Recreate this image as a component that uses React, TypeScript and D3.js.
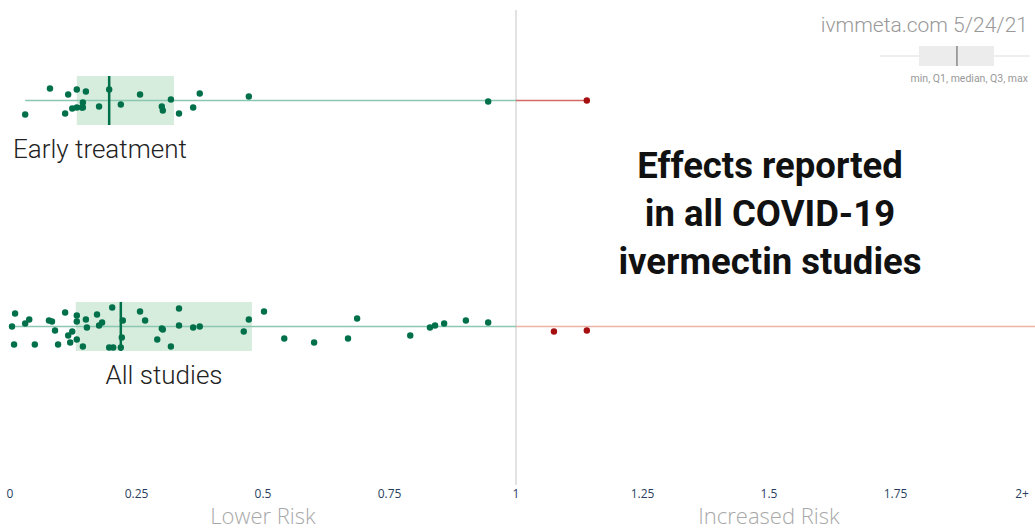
import { scaleLinear } from 'd3';

const W = 1035;
const H = 531;

// risk ratio scale, 0 .. 2+
const TICKS = [0, 0.25, 0.5, 0.75, 1, 1.25, 1.5, 1.75, 2];
const TICK_LABELS = ['0', '0.25', '0.5', '0.75', '1', '1.25', '1.5', '1.75', '2+'];

const ROWS = ['Early treatment', 'All studies'];

// per-study effects, with a vertical jitter in [-1, 1] band units
const EARLY_VALUES = [
  0.03, 0.079, 0.109, 0.115, 0.123, 0.132, 0.132, 0.142, 0.144, 0.144, 0.15, 0.176,
  0.196, 0.219, 0.257, 0.3, 0.302, 0.318, 0.334, 0.362, 0.375, 0.472, 0.945, 1.14,
];
const EARLY_JITTER = [
  0.56, -0.48, 0.52, -0.24, 0.32, -0.44, 0.28, 0.28, 0.08, 0.28, -0.36, 0.24,
  -0.44, 0.16, -0.24, 0.24, 0.4, -0.04, 0.52, 0.28, -0.28, -0.16, 0.04, 0,
];
const ALL_VALUES = [
  0.004, 0.008, 0.01, 0.03, 0.038, 0.049, 0.077, 0.083, 0.089, 0.095, 0.109, 0.115,
  0.119, 0.123, 0.132, 0.132, 0.132, 0.144, 0.15, 0.152, 0.172, 0.176, 0.182, 0.196,
  0.202, 0.204, 0.223, 0.221, 0.219, 0.257, 0.267, 0.291, 0.3, 0.302, 0.318, 0.334,
  0.334, 0.362, 0.375, 0.462, 0.472, 0.502, 0.542, 0.601, 0.668, 0.686, 0.791, 0.83,
  0.84, 0.858, 0.901, 0.945, 1.075, 1.14,
];
const ALL_JITTER = [
  0, 0.72, -0.52, -0.12, -0.28, 0.72, -0.24, -0.2, 0.16, 0.72, -0.56, 0.36,
  0.64, 0.2, -0.44, -0.2, 0.52, 0.8, -0.28, 0.04, -0.48, -0.04, -0.16, 0.84,
  -0.76, 0.84, -0.24, 0.44, 0.84, -0.6, -0.24, 0.52, 0.08, 0.12, 0.8, -0.72,
  -0.04, 0.04, 0, 0.2, -0.28, -0.6, 0.48, 0.64, 0.48, -0.32, 0.36, 0.04,
  -0.04, -0.12, -0.24, -0.16, 0.2, 0.16,
];

// min, Q1, median, Q3, max
const EARLY_STATS = [0.03, 0.132, 0.196, 0.324, 1.14];
const ALL_STATS = [0.004, 0.13, 0.219, 0.478, 2.1];

const TITLE = ['Effects reported', 'in all COVID-19', 'ivermectin studies'];

const GREEN = '#00704a';
const RED = '#a50f0f';

export default function App() {
  const x = scaleLinear().domain([0, 2]).range([10, 1022]);
  const rowY = scaleLinear().domain([0, 1]).range([100.5, 326.5]);
  const jit = scaleLinear().domain([-1, 1]).range([-25, 25]);
  const one = x(1);

  const rows = [
    { label: ROWS[0], values: EARLY_VALUES, jitter: EARLY_JITTER, stats: EARLY_STATS, redLine: '#d46a6a' },
    { label: ROWS[1], values: ALL_VALUES, jitter: ALL_JITTER, stats: ALL_STATS, redLine: '#eab3a6' },
  ];

  // small legend glyph, own scale
  const lg = scaleLinear().domain([0, 1]).range([880, 1030]);

  return (
    <div style={{ position: 'absolute', left: 0, top: 0 }}>
      <svg width={W} height={H} style={{ display: 'block', background: '#fff' }}>
        <line x1={one} x2={one} y1={10} y2={485} stroke="#cfcfcf" strokeWidth={1.2} />

        {rows.map((r, i) => {
          const cy = rowY(i);
          const [mn, q1, md, q3, mx] = r.stats;
          const xMax = Math.min(x(mx), W);
          return (
            <g key={r.label}>
              <rect x={x(q1)} y={cy - 24.5} width={x(q3) - x(q1)} height={49} fill="#d6ecdc" />
              <line x1={x(mn)} x2={one} y1={cy} y2={cy} stroke="#8cc7b2" strokeWidth={1.3} />
              <line x1={one} x2={xMax} y1={cy} y2={cy} stroke={r.redLine} strokeWidth={1.3} />
              <line x1={x(md)} x2={x(md)} y1={cy - 24.5} y2={cy + 24.5} stroke={GREEN} strokeWidth={2.5} />
              {r.values.map((v, j) => (
                <circle key={j} cx={x(v)} cy={cy + jit(r.jitter[j])} r={3.2} fill={v > 1 ? RED : GREEN} />
              ))}
            </g>
          );
        })}

        <text x={13} y={158} fontFamily="Roboto" fontWeight={300} fontSize={26} fill="#222">
          {ROWS[0]}
        </text>
        <text x={164} y={384} textAnchor="middle" fontFamily="Roboto" fontWeight={300} fontSize={26} fill="#222">
          {ROWS[1]}
        </text>

        {TITLE.map((t, i) => (
          <text
            key={t}
            x={770}
            y={178 + i * 48}
            textAnchor="middle"
            fontFamily="Roboto"
            fontWeight={700}
            fontSize={36.5}
            fill="#111"
          >
            {t}
          </text>
        ))}

        {TICKS.map((t, i) => (
          <text
            key={t}
            x={x(t)}
            y={498}
            textAnchor="middle"
            fontFamily="'Open Sans'"
            fontSize={12}
            fill="#2a3f5f"
          >
            {TICK_LABELS[i]}
          </text>
        ))}
        <text x={x(0.5)} y={524} textAnchor="middle" fontFamily="'Open Sans'" fontWeight={300} fontSize={22} fill="#a8a8a8">
          Lower Risk
        </text>
        <text x={x(1.5)} y={524} textAnchor="middle" fontFamily="'Open Sans'" fontWeight={300} fontSize={22} fill="#a8a8a8">
          Increased Risk
        </text>

        <text x={1028} y={32} textAnchor="end" fontFamily="Roboto" fontWeight={300} fontSize={21} fill="#999">
          ivmmeta.com 5/24/21
        </text>
        <line x1={lg(0)} x2={lg(1)} y1={56} y2={56} stroke="#ddd" strokeWidth={1} />
        <rect x={lg(0.26)} y={46} width={lg(0.76) - lg(0.26)} height={20} fill="#ececec" />
        <line x1={lg(0.513)} x2={lg(0.513)} y1={46} y2={66} stroke="#888" strokeWidth={1.5} />
        <text x={1028} y={82} textAnchor="end" fontFamily="Roboto" fontSize={10.5} fill="#999">
          min, Q1, median, Q3, max
        </text>
      </svg>
    </div>
  );
}
